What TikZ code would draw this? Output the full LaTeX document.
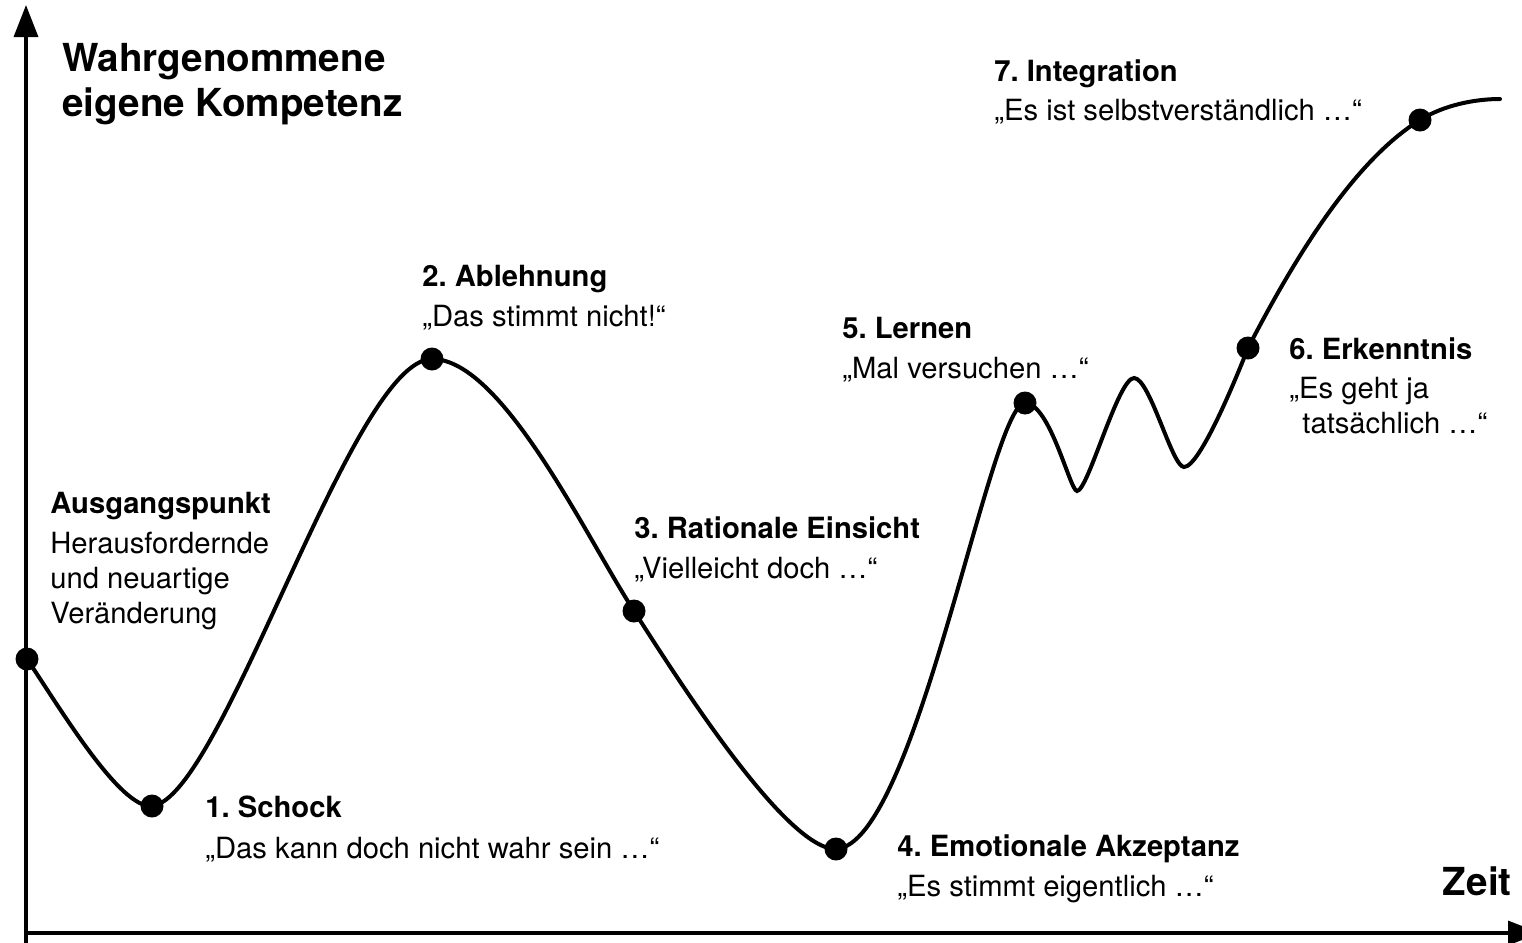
\documentclass[tikz,border=0pt]{standalone}
\usepackage{fontspec}
\setmainfont{TeX Gyre Heros}
\usepackage{tikz}
\usetikzlibrary{arrows.meta}
\frenchspacing

\begin{document}
\begin{tikzpicture}[x=0.5pt, y=-0.5pt,
                stagehead/.style={anchor=base west, inner sep=0pt, font=\fontsize{14.6pt}{17pt}\selectfont\bfseries},
                stagequote/.style={anchor=base west, inner sep=0pt, font=\fontsize{14.6pt}{17pt}\selectfont},
                axislabel/.style={anchor=base west, inner sep=0pt, font=\fontsize{19.3pt}{23pt}\selectfont\bfseries},
                axisline/.style={line width=1.7pt, -{Triangle[length=16pt, width=12pt]}}]
                \useasboundingbox (0,0) rectangle (1522,943);
                % Achsen
                \coordinate (ybot) at (26,943);
                \coordinate (ytip) at (26,5);
                \coordinate (xstart) at (26,933);
                \coordinate (xtip) at (1540,933);
                \draw[axisline] (ybot) -- (ytip);
                \draw[axisline] (xstart) -- (xtip);
                \node[axislabel] (ytitle1) at (62,71) {Wahrgenommene};
                \node[axislabel] (ytitle2) at (62,116) {eigene Kompetenz};
                \node[axislabel, anchor=base east] (xtitle) at (1512,895) {Zeit};
                % Phasen
                \coordinate (p0) at (27,659);
                \coordinate (p1) at (152,806);
                \coordinate (p2) at (432,359);
                \coordinate (p3) at (634,611);
                \coordinate (p4) at (836,849);
                \coordinate (p5) at (1025,403);
                \coordinate (w1) at (1077,491);
                \coordinate (w2) at (1134,378);
                \coordinate (w3) at (1184,467);
                \coordinate (p6) at (1248,348);
                \coordinate (p7) at (1420,120);
                \coordinate (cend) at (1500,99);
                % Kurve
                \draw[line width=2pt, line cap=round]
                    (p0) .. controls (60,708) and (120,809) .. (p1)
                    .. controls (222,799) and (352,359) .. (p2)
                    .. controls (502,359) and (585,535) .. (p3)
                    .. controls (677,678) and (786,850) .. (p4)
                    .. controls (916,845) and (990,403) .. (p5)
                    .. controls (1050,403) and (1070,491) .. (w1)
                    .. controls (1088,491) and (1118,378) .. (w2)
                    .. controls (1150,378) and (1172,467) .. (w3)
                    .. controls (1200,467) and (1237,376) .. (p6)
                    .. controls (1292,263) and (1352,162) .. (p7)
                    .. controls (1444,105) and (1475,99) .. (cend);
                \foreach \p in {p0, p1, p2, p3, p4, p5, p6, p7} {
                    \fill (\p) circle[radius=5.75pt];
                }
                % Beschriftungen
                \node[stagehead] (s0head) at (50,513) {Ausgangspunkt};
                \node[stagequote] (s0line1) at (50,553) {Herausfordernde};
                \node[stagequote] (s0line2) at (50,588) {und neuartige};
                \node[stagequote] (s0line3) at (50,623) {Veränderung};
                \node[stagehead] (s1head) at (205,817) {1. Schock};
                \node[stagequote] (s1quote) at (205,858) {„Das kann doch nicht wahr sein …“};
                \node[stagehead] (s2head) at (422,286) {2. Ablehnung};
                \node[stagequote] (s2quote) at (422,326) {„Das stimmt nicht!“};
                \node[stagehead] (s3head) at (634,538) {3. Rationale Einsicht};
                \node[stagequote] (s3quote) at (634,578) {„Vielleicht doch …“};
                \node[stagehead] (s4head) at (897,856) {4. Emotionale Akzeptanz};
                \node[stagequote] (s4quote) at (897,896) {„Es stimmt eigentlich …“};
                \node[stagehead] (s5head) at (842,338) {5. Lernen};
                \node[stagequote] (s5quote) at (842,378) {„Mal versuchen …“};
                \node[stagehead] (s6head) at (1289,359) {6. Erkenntnis};
                \node[stagequote] (s6quote) at (1289,398) {„Es geht ja};
                \node[stagequote] (s6quote2) at (1302,433) {tatsächlich …“};
                \node[stagehead] (s7head) at (994,81) {7. Integration};
                \node[stagequote] (s7quote) at (994,120) {„Es ist selbstverständlich …“};
            \end{tikzpicture}
\end{document}
